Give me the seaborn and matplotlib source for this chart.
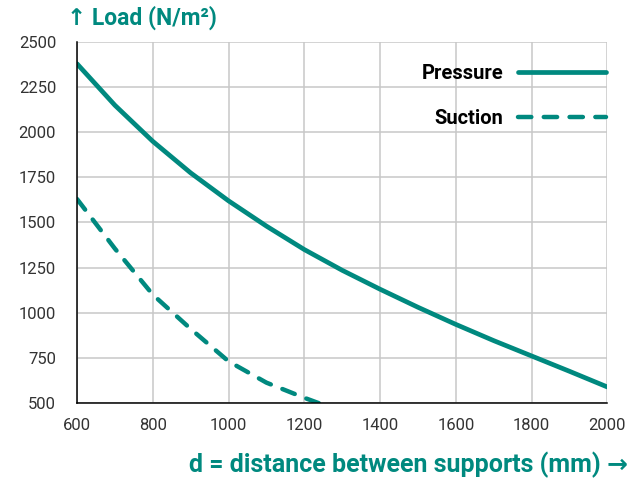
import pandas as pd
import matplotlib.pyplot as plt
import seaborn as sns

# Datos
dist_pressure = [600, 700, 800, 900, 1000, 1100, 1200, 1300, 1400, 1500, 1600, 1700, 1800, 1900, 2000]
load_pressure = [2380, 2150, 1950, 1775, 1620, 1480, 1350, 1235, 1130, 1030, 935, 845, 760, 675, 588]

dist_suction = [600, 700, 800, 900, 1000, 1100, 1200, 1300]
load_suction = [1630, 1355, 1100, 910, 730, 612, 528, 450]

x_ticks = [600, 800, 1000, 1200, 1400, 1600, 1800, 2000]
y_ticks = [500, 750, 1000, 1250, 1500, 1750, 2000, 2250, 2500]

teal = '#00897f'

df_p = pd.DataFrame({'d': dist_pressure, 'load': load_pressure})
df_s = pd.DataFrame({'d': dist_suction, 'load': load_suction})

sns.set_style('white')
plt.rcParams['font.family'] = ['Roboto', 'DejaVu Sans']

fig = plt.figure(figsize=(6.42, 4.79), dpi=100)
ax = fig.add_axes([0.12, 0.159, 0.826, 0.753])

sns.lineplot(data=df_p, x='d', y='load', ax=ax, color=teal, lw=3.4,
             solid_capstyle='round', label='Pressure')
sns.lineplot(data=df_s, x='d', y='load', ax=ax, color=teal, lw=3.2,
             dash_capstyle='round', label='Suction')
ax.lines[1].set_dashes([3.0, 2.8])

ax.set_xlim(600, 2000)
ax.set_ylim(500, 2500)
ax.set_xticks(x_ticks)
ax.set_yticks(y_ticks)
ax.grid(True, color='#c8c8c8', lw=1.1)
ax.tick_params(axis='both', labelsize=12, labelcolor='#333333', length=5,
               color='#c8c8c8', direction='out')
ax.tick_params(axis='x', pad=6)
ax.tick_params(axis='y', pad=10)
# ticks en el origen en negro (prolongan los ejes)
ax.yaxis.get_major_ticks()[0].tick1line.set_color('black')
ax.xaxis.get_major_ticks()[0].tick1line.set_color('black')

for s in ['top', 'right']:
    ax.spines[s].set_visible(False)
ax.spines['left'].set_color('black')
ax.spines['bottom'].set_color('black')
ax.spines['left'].set_linewidth(1.1)
ax.spines['bottom'].set_linewidth(1.1)

ax.set_xlabel('')
ax.set_ylabel('')
fig.text(0.104, 0.962, '↑ Load (N/m²)', color=teal, fontsize=16.5,
         fontweight='bold', ha='left', va='center')
fig.text(0.978, 0.029, 'd = distance between supports (mm) →', color=teal,
         fontsize=18, fontweight='bold', ha='right', va='center')

leg = ax.legend(loc='upper right', bbox_to_anchor=(0.998, 0.94), frameon=False,
                markerfirst=False, handlelength=4.4, handletextpad=0.7,
                labelspacing=1.3, borderpad=0, borderaxespad=0,
                prop={'weight': 'bold', 'size': 14.5})
for t in leg.get_texts():
    t.set_color('black')

fig.savefig('out.png', dpi=100)
